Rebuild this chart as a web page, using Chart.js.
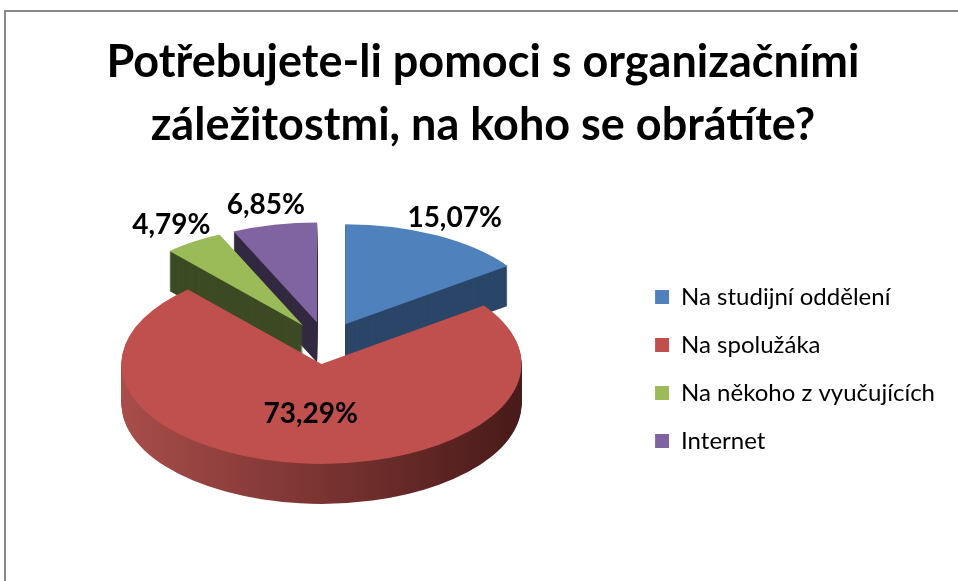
<!DOCTYPE html>
<html>
<head>
<meta charset="utf-8">
<script src="https://cdn.jsdelivr.net/npm/chart.js@4"></script>
<style>
    html, body { margin: 0; padding: 0; background: #fff; overflow: hidden; }
    #frame { position: absolute; left: 4px; top: 10px; width: 1100px; height: 800px; border: 2px solid #878787; }
    #wrap { position: absolute; left: 0; top: 0; width: 958px; height: 581px; }
</style>
</head>
<body>
<div id="frame"></div>
<div id="wrap"><canvas id="chart" width="958" height="581"></canvas></div>
<script>
const titleLines = ['Potřebujete-li pomoci s organizačními', 'záležitostmi, na koho se obrátíte?'];
const categories = ['Na studijní oddělení', 'Na spolužáka', 'Na někoho z vyučujících', 'Internet'];
const shares = [15.07, 73.29, 4.79, 6.85];

const topColors = ['#4f81bd', '#c0504d', '#9bbb59', '#8064a2'];
const wallColors = ['#2b4668', null, '#3d4b24', '#32283f']; // red wall gets a gradient

const PIE_TILT = 0.5;    // vertical squash of the pie
const PIE_DEPTH = 40;    // wall height in px
const EXPLODE = 42;      // distance each slice is pulled out

function midAngle(arc) {
    return (arc.startAngle + arc.endAngle) / 2;
}

// squash around the pie centre, then pull the slice out along its middle
function place(ctx, arc, shiftY) {
    ctx.translate(arc.x, arc.y + shiftY);
    ctx.scale(1, PIE_TILT);
    ctx.translate(-arc.x, -arc.y);
    const mid = midAngle(arc);
    ctx.translate(Math.cos(mid) * EXPLODE, Math.sin(mid) * EXPLODE);
}

function wallFill(ctx, arc, i) {
    if (wallColors[i]) return wallColors[i];
    const R = arc.outerRadius;
    const g = ctx.createLinearGradient(arc.x - R, 0, arc.x + R, 0);
    g.addColorStop(0, '#a84d4a');
    g.addColorStop(0.5, '#7a3432');
    g.addColorStop(1, '#481a19');
    return g;
}

const pie3d = {
    id: 'pie3d',
    beforeDatasetDraw(chart, args) {
        const ctx = chart.ctx;
        const arcs = args.meta.data;
        // stack darker copies downwards to get the side walls
        for (let d = PIE_DEPTH; d > 0; d--) {
            arcs.forEach((arc, i) => {
                ctx.save();
                place(ctx, arc, d);
                const keep = arc.options;
                arc.options = Object.assign({}, keep, { backgroundColor: wallFill(ctx, arc, i) });
                arc.draw(ctx);
                arc.options = keep;
                ctx.restore();
            });
        }
        // top faces
        arcs.forEach(arc => {
            ctx.save();
            place(ctx, arc, 0);
            arc.draw(ctx);
            ctx.restore();
        });
        return false;
    }
};

const sliceLabels = {
    id: 'sliceLabels',
    afterDatasetsDraw(chart) {
        const ctx = chart.ctx;
        const meta = chart.getDatasetMeta(0);
        const total = shares.reduce((a, b) => a + b, 0);
        ctx.save();
        ctx.font = 'bold 28px Lato';
        ctx.fillStyle = '#000';
        ctx.textAlign = 'center';
        ctx.textBaseline = 'middle';
        meta.data.forEach((arc, i) => {
            const mid = midAngle(arc);
            const R = arc.outerRadius;
            const r = (shares[i] / total > 0.5 ? 0.5 * R : 1.2 * R) + EXPLODE;
            const x = arc.x + r * Math.cos(mid);
            const y = arc.y + PIE_TILT * r * Math.sin(mid);
            ctx.fillText(shares[i].toFixed(2).replace('.', ',') + '%', x, y);
        });
        ctx.restore();
    }
};

new Chart(document.getElementById('chart'), {
    type: 'pie',
    data: {
        labels: categories,
        datasets: [{
            data: shares,
            backgroundColor: topColors,
            borderWidth: 0,
            radius: 200
        }]
    },
    options: {
        responsive: false,
        animation: false,
        events: [],
        layout: { padding: { left: 21, right: 13, top: 0, bottom: 104 } },
        plugins: {
            title: {
                display: true,
                text: titleLines,
                color: '#000',
                font: { family: 'Lato', size: 45, weight: 'bold', lineHeight: 1.4 },
                padding: { top: 31, bottom: 52 }
            },
            legend: {
                position: 'right',
                align: 'end',
                labels: {
                    boxWidth: 14,
                    boxHeight: 14,
                    padding: 24,
                    color: '#000',
                    font: { family: 'Lato', size: 24 }
                }
            },
            tooltip: { enabled: false }
        }
    },
    plugins: [pie3d, sliceLabels]
});
</script>
</body>
</html>
